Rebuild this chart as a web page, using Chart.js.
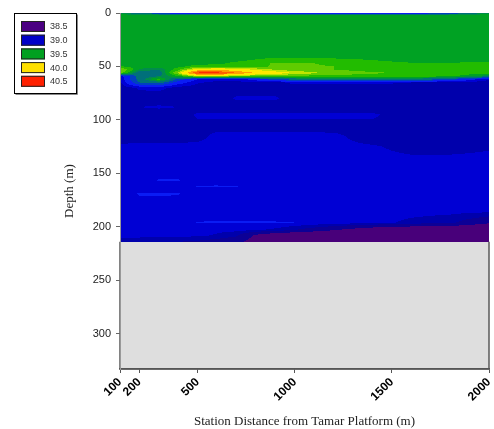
<!DOCTYPE html>
<html lang="en">
<head>
<meta charset="UTF-8">
<title>Salinity section</title>
<script src="https://cdn.jsdelivr.net/npm/chart.js"></script>
<style>
  html, body { margin: 0; padding: 0; background: #fff; }
</style>
</head>
<body>
<canvas id="chart" width="494" height="429"></canvas>
<script>
// station positions (m) and depth levels (m) of the gridded section
const stations = [100, 200, 300, 400, 500, 600, 700, 800, 900, 1000, 1200, 1400, 1600, 1800, 2000];
const depths = [0, 2, 5, 40, 44, 47, 50, 53, 56, 59, 62, 65, 70, 80, 88, 95, 108, 116, 125, 140, 157, 162, 169, 185, 196, 203, 208, 214];

// one row per depth level, one value per station
const salinity = [
  [39.40, 39.30, 39.10, 39.00, 39.00, 39.00, 39.00, 39.00, 39.00, 39.00, 39.00, 39.00, 39.00, 39.10, 39.45],
  [39.50, 39.50, 39.50, 39.50, 39.50, 39.50, 39.50, 39.50, 39.50, 39.50, 39.50, 39.50, 39.50, 39.50, 39.50],
  [39.50, 39.50, 39.50, 39.50, 39.50, 39.50, 39.50, 39.50, 39.50, 39.50, 39.50, 39.50, 39.50, 39.50, 39.50],
  [39.50, 39.50, 39.50, 39.50, 39.50, 39.50, 39.50, 39.50, 39.50, 39.50, 39.50, 39.50, 39.50, 39.50, 39.50],
  [39.50, 39.50, 39.50, 39.50, 39.50, 39.50, 39.52, 39.56, 39.60, 39.60, 39.58, 39.55, 39.50, 39.50, 39.50],
  [39.50, 39.50, 39.50, 39.50, 39.50, 39.52, 39.58, 39.62, 39.66, 39.66, 39.64, 39.60, 39.56, 39.56, 39.58],
  [39.56, 39.50, 39.50, 39.52, 39.60, 39.62, 39.62, 39.63, 39.66, 39.66, 39.65, 39.62, 39.60, 39.60, 39.62],
  [39.78, 39.45, 39.38, 39.62, 39.95, 40.00, 39.95, 39.82, 39.74, 39.68, 39.65, 39.62, 39.62, 39.62, 39.62],
  [39.72, 39.28, 39.30, 39.78, 40.40, 40.42, 40.20, 40.04, 39.94, 39.84, 39.70, 39.66, 39.64, 39.62, 39.60],
  [39.00, 39.30, 39.36, 39.55, 39.80, 39.80, 39.72, 39.66, 39.64, 39.62, 39.62, 39.62, 39.62, 39.58, 39.40],
  [38.98, 39.30, 39.60, 39.20, 39.05, 39.00, 39.00, 39.10, 39.20, 39.30, 39.40, 39.40, 39.35, 39.20, 38.98],
  [38.96, 39.25, 39.30, 39.10, 38.99, 38.96, 38.96, 38.96, 38.96, 39.00, 39.00, 39.00, 38.98, 38.95, 38.95],
  [38.94, 38.99, 39.00, 38.95, 38.94, 38.94, 38.94, 38.94, 38.94, 38.94, 38.94, 38.94, 38.94, 38.94, 38.94],
  [38.94, 38.94, 38.94, 38.94, 38.94, 38.94, 38.99, 38.99, 38.99, 38.94, 38.94, 38.94, 38.94, 38.94, 38.94],
  [38.94, 38.98, 38.99, 38.98, 38.94, 38.94, 38.94, 38.94, 38.94, 38.94, 38.94, 38.94, 38.94, 38.94, 38.94],
  [38.94, 38.94, 38.94, 38.94, 38.99, 38.99, 38.99, 38.99, 38.99, 38.99, 38.99, 38.99, 38.94, 38.94, 38.94],
  [38.96, 38.96, 38.96, 38.96, 38.96, 38.96, 38.96, 38.96, 38.96, 38.96, 38.96, 38.96, 38.96, 38.96, 38.96],
  [38.93, 38.93, 38.93, 38.93, 38.95, 39.01, 39.01, 39.01, 39.01, 39.01, 39.00, 38.94, 38.94, 38.94, 38.94],
  [39.00, 39.01, 39.01, 39.01, 39.01, 39.01, 39.01, 39.01, 39.01, 39.01, 39.00, 38.99, 38.95, 38.95, 38.97],
  [39.01, 39.01, 39.01, 39.01, 39.01, 39.01, 39.01, 39.01, 39.01, 39.01, 39.01, 39.01, 39.01, 39.01, 39.01],
  [39.01, 39.01, 39.054, 39.054, 39.02, 39.01, 39.01, 39.01, 39.01, 39.01, 39.01, 39.01, 39.01, 39.01, 39.01],
  [39.01, 39.01, 39.01, 39.01, 39.054, 39.056, 39.054, 39.02, 39.01, 39.01, 39.01, 39.01, 39.01, 39.01, 39.01],
  [39.01, 39.056, 39.056, 39.054, 39.02, 39.01, 39.01, 39.01, 39.01, 39.01, 39.01, 39.01, 39.01, 39.01, 39.01],
  [39.01, 39.01, 39.01, 39.01, 39.02, 39.03, 39.03, 39.03, 39.03, 39.02, 39.01, 39.01, 39.01, 39.01, 39.01],
  [39.02, 39.02, 39.02, 39.03, 39.052, 39.054, 39.054, 39.054, 39.052, 39.05, 39.03, 39.01, 38.96, 38.92, 38.78],
  [39.00, 39.00, 39.00, 39.00, 39.00, 39.00, 39.00, 38.99, 38.96, 38.90, 38.76, 38.62, 38.56, 38.55, 38.50],
  [39.00, 39.00, 39.00, 39.00, 39.00, 38.97, 38.92, 38.72, 38.60, 38.55, 38.50, 38.50, 38.50, 38.50, 38.50],
  [38.96, 38.94, 38.92, 38.90, 38.88, 38.84, 38.80, 38.66, 38.56, 38.52, 38.50, 38.50, 38.50, 38.50, 38.50]
];

const xTicks = [100, 200, 500, 1000, 1500, 2000];
const yTicks = [0, 50, 100, 150, 200, 250, 300];
const legendLabels = ['38.5', '39.0', '39.5', '40.0', '40.5'];

// contour fill levels and their colours
const levels = [38.75, 38.9, 38.98, 39.05, 39.15, 39.25, 39.38, 39.46, 39.55, 39.65, 39.75, 39.85, 40.05, 40.2, 40.35];
const shades = ['#48007A', '#0C0096', '#0000AC', '#0000D4', '#0A1CF4', '#0040C0', '#00707A', '#008C4C',
                '#00A223', '#22BC00', '#60CC00', '#C0E400', '#FFE800', '#FFA000', '#FF6000', '#FF2A00'];
const legendColors = ['#4B0082', '#0000C8', '#00A020', '#FFE000', '#FF2000'];

const shadeRgb = shades.map(h => [parseInt(h.slice(1, 3), 16), parseInt(h.slice(3, 5), 16), parseInt(h.slice(5, 7), 16)]);

function shadeIndex(v) {
    let i = 0;
    while (i < levels.length && v >= levels[i]) i++;
    return i;
}

function findCell(arr, v) {
    let i = 0;
    while (i < arr.length - 2 && v > arr[i + 1]) i++;
    const t = Math.min(1, Math.max(0, (v - arr[i]) / (arr[i + 1] - arr[i])));
    return [i, t];
}

function valueAt(x, d) {
    const [ix, tx] = findCell(stations, x);
    const [iy, ty] = findCell(depths, d);
    const a = salinity[iy][ix], b = salinity[iy][ix + 1];
    const c = salinity[iy + 1][ix], e = salinity[iy + 1][ix + 1];
    return (a * (1 - tx) + b * tx) * (1 - ty) + (c * (1 - tx) + e * tx) * ty;
}

// fills the plot: grey sea floor, then the contoured section on top
const sectionPlugin = {
    id: 'section',
    beforeDraw(chart) {
        const { ctx, chartArea: a, scales: { x, y } } = chart;
        ctx.save();
        ctx.fillStyle = '#DEDEDE';
        ctx.fillRect(a.left, a.top, a.right - a.left, a.bottom - a.top);

        const w = Math.round(a.right - a.left), h = Math.round(a.bottom - a.top);
        const off = document.createElement('canvas');
        off.width = w; off.height = h;
        const octx = off.getContext('2d');
        const img = octx.createImageData(w, h);
        const maxDepth = depths[depths.length - 1];
        for (let py = 0; py < h; py++) {
            const d = y.getValueForPixel(a.top + py + 0.5);
            if (d > maxDepth) continue;
            for (let px = 0; px < w; px++) {
                const xv = x.getValueForPixel(a.left + px + 0.5);
                const c = shadeRgb[shadeIndex(valueAt(xv, d))];
                const k = (py * w + px) * 4;
                img.data[k] = c[0]; img.data[k + 1] = c[1]; img.data[k + 2] = c[2]; img.data[k + 3] = 255;
            }
        }
        octx.putImageData(img, 0, 0);
        ctx.drawImage(off, a.left, a.top);

        // outline of the grey area
        const yb = y.getPixelForValue(maxDepth);
        ctx.strokeStyle = '#5a5a5a';
        ctx.lineWidth = 1.5;
        ctx.beginPath();
        ctx.moveTo(a.left, yb);
        ctx.lineTo(a.left, a.bottom);
        ctx.lineTo(a.right, a.bottom);
        ctx.lineTo(a.right, yb);
        ctx.stroke();
        ctx.restore();
    },
    afterDraw(chart) {
        const ctx = chart.ctx;
        ctx.save();
        // legend box
        ctx.fillStyle = '#fff';
        ctx.fillRect(14.5, 13.5, 62, 80);
        ctx.strokeStyle = '#888';
        ctx.lineWidth = 1;
        ctx.beginPath();
        ctx.moveTo(77.5, 14.5); ctx.lineTo(77.5, 94.5); ctx.lineTo(15.5, 94.5);
        ctx.stroke();
        ctx.strokeStyle = '#000';
        ctx.strokeRect(14.5, 13.5, 62, 80);
        ctx.font = '9px "Liberation Sans"';
        ctx.textBaseline = 'middle';
        legendLabels.forEach((lab, i) => {
            const top = 21 + i * 13.7;
            ctx.fillStyle = legendColors[i];
            ctx.fillRect(21, top, 24, 11);
            ctx.strokeStyle = '#222';
            ctx.strokeRect(21.5, top + 0.5, 23, 10);
            ctx.fillStyle = '#333';
            ctx.fillText(lab, 50, top + 6);
        });
        ctx.restore();
    }
};

new Chart(document.getElementById('chart'), {
    type: 'scatter',
    data: { datasets: [] },
    options: {
        responsive: false,
        animation: false,
        devicePixelRatio: 1,
        layout: { padding: { left: 60, top: 13, right: 5, bottom: 0 } },
        plugins: { legend: { display: false }, tooltip: { enabled: false } },
        scales: {
            x: {
                type: 'linear',
                min: 100,
                max: 2000,
                afterBuildTicks: s => { s.ticks = xTicks.map(v => ({ value: v })); },
                afterFit: s => { s.height = 60; s.paddingLeft = 0; s.paddingRight = 0; },
                ticks: {
                    autoSkip: false, maxRotation: 45, minRotation: 45, padding: 2,
                    color: '#000',
                    font: { family: 'Liberation Sans', size: 12, weight: 'bold' },
                    callback: v => String(v)
                },
                grid: { drawOnChartArea: false, tickLength: 4, color: '#555' },
                border: { color: '#555', width: 1.5 },
                title: {
                    display: true,
                    text: 'Station Distance from Tamar Platform (m)',
                    color: '#222',
                    padding: 0,
                    font: { family: 'Liberation Serif', size: 13 }
                }
            },
            y: {
                type: 'linear',
                reverse: true,
                min: 0,
                max: 333,
                afterBuildTicks: s => { s.ticks = yTicks.map(v => ({ value: v })); },
                afterFit: s => { s.width = 60; s.paddingTop = 0; s.paddingBottom = 0; },
                ticks: {
                    padding: 5,
                    color: '#222',
                    font: { family: 'Liberation Sans', size: 11 },
                    callback: v => String(v)
                },
                grid: { drawOnChartArea: false, tickLength: 4, color: '#666' },
                border: { color: '#999', width: 1 },
                title: {
                    display: true,
                    text: 'Depth (m)',
                    color: '#222',
                    padding: { top: 2, bottom: 0 },
                    font: { family: 'Liberation Serif', size: 13 }
                }
            }
        }
    },
    plugins: [sectionPlugin]
});
</script>
</body>
</html>
